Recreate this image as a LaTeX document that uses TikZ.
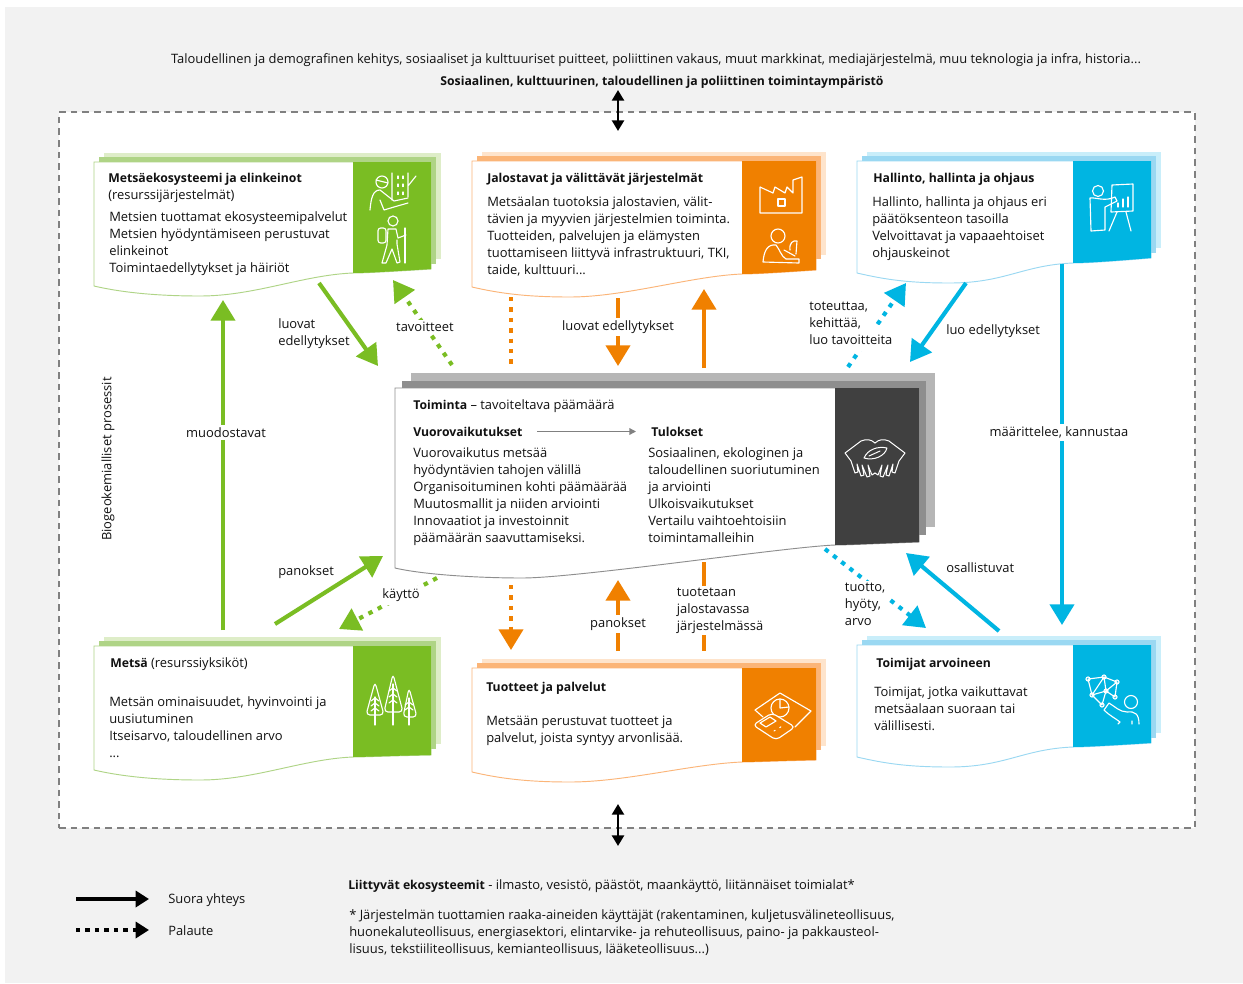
\documentclass[tikz,border=0pt]{standalone}
\usepackage{fontspec}
\setmainfont{Open Sans}[BoldFeatures={Scale=0.945}]
\usetikzlibrary{arrows.meta}
\definecolor{grn}{HTML}{7ABD23}\definecolor{grnm}{HTML}{AFD486}\definecolor{grnl}{HTML}{DEEDC8}
\definecolor{org}{HTML}{F08000}\definecolor{orgm}{HTML}{FBB578}\definecolor{orgl}{HTML}{FEE4CC}
\definecolor{blu}{HTML}{00B5E2}\definecolor{blum}{HTML}{9AD8F2}\definecolor{blul}{HTML}{C9EEFA}
\definecolor{drk}{HTML}{404040}\definecolor{drkm}{HTML}{8E8E8E}\definecolor{drkl}{HTML}{B6B6B6}
\definecolor{txt}{HTML}{111111}\definecolor{bgc}{HTML}{F2F2F2}
\newcommand{\txtfont}{\fontsize{9.7}{12.75}\selectfont}
\tikzset{
  lbl/.style={font=\txtfont,text=txt,inner sep=0pt,align=left},
  gaplbl/.style={lbl,fill=white,inner xsep=2pt,inner ysep=2pt},
  conn/.style={line width=3.1pt,-{Triangle[length=15.5pt,width=18pt]}},
  connplain/.style={line width=3.1pt},
  dotc/.style={line width=3.1pt,dash pattern=on 3.3pt off 4.5pt},
  dota/.style={dotc,-{Triangle[length=15.5pt,width=18pt]}},
  ico/.style={draw=white,line width=0.85pt,line join=round,line cap=round},
  dbl/.style={line width=1.8pt,black,{Triangle[length=8pt,width=9pt]}-{Triangle[length=8pt,width=9pt]}},
  leg/.style={line width=2.8pt,black,-{Triangle[length=10pt,width=12pt]}},
}
\newcommand{\lxa}{10}\newcommand{\lya}{9}\newcommand{\lba}{10}
\newcommand{\mxa}{5}\newcommand{\mya}{5}\newcommand{\mba}{5}
% #1 base colour name, #2 left, #3 top, #4 right, #5 panel left,
% #6 wave low, #7 x of low, #8 panel bottom, #9 right bottom
\newcommand{\cardshape}[9]{%
  \fill[#1l] (#2+\lxa,#3-\lya) rectangle (#4+\lxa,#9-\lba);
  \fill[#1m] (#2+\mxa,#3-\mya) rectangle (#4+\mxa,#9-\mba);
  \filldraw[draw=#1m,fill=white,line width=0.7pt] (#2,#3) -- (#4,#3) -- (#4,#9)
     .. controls (#5+30,#8-1) and (#5+10,#8) .. (#5,#8)
     .. controls (#5-50,#8+2) and (#7+55,#6) .. (#7,#6)
     .. controls (#7-40,#6) and (#2+30,#6-3) .. (#2,#6-10) -- cycle;
  \fill[#1] (#5,#3) -- (#4,#3) -- (#4,#9) .. controls (#5+30,#8-1) and (#5+10,#8) .. (#5,#8) -- cycle;
}
\begin{document}
\begin{tikzpicture}[x=0.75pt,y=-0.75pt]
\useasboundingbox (0,0) rectangle (1243,983);
\fill[white] (0,0) rectangle (1243,983);
\fill[bgc] (5,7) rectangle (1243,983);
\node[lbl] (topa) at (656,60.5) {Taloudellinen ja demografinen kehitys, sosiaaliset ja kulttuuriset puitteet, poliittinen vakaus, muut markkinat, mediajärjestelmä, muu teknologia ja infra, historia...};
\node[lbl,font=\txtfont\bfseries] (topb) at (662,82) {Sosiaalinen, kulttuurinen, taloudellinen ja poliittinen toimintaympäristö};
\node[draw=gray,dash pattern=on 5pt off 3.7pt,line width=0.9pt,fill=white,minimum width=1136*0.75pt,minimum height=716*0.75pt,inner sep=0pt] (frame) at (627,470) {};

% cards
\cardshape{grn}{94}{162}{431}{353}{296}{200}{273}{269}
\renewcommand{\lba}{15}\renewcommand{\mba}{11}
\cardshape{org}{472}{161}{816}{742}{297}{570}{274}{270}
\renewcommand{\lba}{10}\renewcommand{\mba}{5}
\cardshape{blu}{857}{161}{1151}{1073}{283}{950}{263}{258}
\renewcommand{\lba}{11}\renewcommand{\mba}{6}
\cardshape{grn}{94}{646}{431}{353}{780}{200}{757}{755}
\renewcommand{\lba}{14}\renewcommand{\mba}{10}
\cardshape{org}{472}{668}{816}{742}{782}{570}{762}{760}
\renewcommand{\lba}{10}\renewcommand{\mba}{5}
\cardshape{blu}{857}{645}{1151}{1073}{767}{950}{747}{743}
\renewcommand{\lxa}{16}\renewcommand{\lya}{15}\renewcommand{\lba}{15}
\renewcommand{\mxa}{7}\renewcommand{\mya}{7}\renewcommand{\mba}{7}
\cardshape{drk}{395}{388}{919}{835}{578}{522}{545}{542}

% coordinates of free connector ends
\coordinate (g1a) at (223,630); \coordinate (g1b) at (223,300);
\coordinate (g2a) at (319,283); \coordinate (g2b) at (378,366);
\coordinate (g3a) at (452,365); \coordinate (g3b) at (393,280);
\coordinate (g4a) at (275,624); \coordinate (g4b) at (383,556);
\coordinate (g5a) at (437,578); \coordinate (g5b) at (339,629);
\coordinate (o1a) at (511,297); \coordinate (o1b) at (511,365);
\coordinate (o2a) at (618,298); \coordinate (o2b) at (618,366);
\coordinate (o3a) at (704,368); \coordinate (o3b) at (704,289);
\coordinate (o4a) at (511,585); \coordinate (o4b) at (511,650);
\coordinate (o5a) at (618,651); \coordinate (o5b) at (618,580);
\coordinate (o6a) at (704,562); \coordinate (o6b) at (704,651);
\coordinate (b1a) at (848,367); \coordinate (b1b) at (906,283);
\coordinate (b2a) at (966,283); \coordinate (b2b) at (910,362);
\coordinate (b3a) at (1062,264); \coordinate (b3b) at (1062,625);
\coordinate (b4a) at (999,631); \coordinate (b4b) at (906,553);
\coordinate (b5a) at (825,549); \coordinate (b5b) at (926,628);
\coordinate (d1a) at (618,90); \coordinate (d1b) at (618,131);
\coordinate (d2a) at (618,804); \coordinate (d2b) at (618,846);
\coordinate (l1a) at (76,899); \coordinate (l1b) at (149,899);
\coordinate (l2a) at (76,930); \coordinate (l2b) at (149,930);

\draw[conn,grn] (g1a) -- (g1b);
\draw[conn,grn] (g2a) -- (g2b);
\draw[dota,grn] (g3a) -- (g3b);
\draw[conn,grn] (g4a) -- (g4b);
\draw[dota,grn] (g5a) -- (g5b);
\draw[dotc,org] (o1a) -- (o1b);
\draw[conn,org] (o2a) -- (o2b);
\draw[conn,org] (o3a) -- (o3b);
\draw[dota,org] (o4a) -- (o4b);
\draw[conn,org] (o5a) -- (o5b);
\draw[connplain,org] (o6a) -- (o6b);
\draw[dota,blu] (b1a) -- (b1b);
\draw[conn,blu] (b2a) -- (b2b);
\draw[conn,blu] (b3a) -- (b3b);
\draw[conn,blu] (b4a) -- (b4b);
\draw[dota,blu] (b5a) -- (b5b);
\draw[dbl] (d1a) -- (d1b);
\draw[dbl] (d2a) -- (d2b);
\draw[leg] (l1a) -- (l1b);
\draw[leg,dash pattern=on 3.3pt off 3.8pt] (l2a) -- (l2b);

% connector labels
\node[gaplbl] (n1) at (226,432.5) {muodostavat};
\node[lbl,anchor=west] (n2) at (278,334) {luovat\\edellytykset};
\node[gaplbl] (n3) at (425,327) {tavoitteet};
\node[gaplbl] (n4) at (618,327) {luovat edellytykset};
\node[gaplbl,anchor=west,inner ysep=6pt] (n5gap) at (806,338) {\phantom{luo tavoitteita}};
\node[lbl,anchor=west] (n5) at (809,323) {toteuttaa,\\kehittää,\\luo tavoitteita};
\node[lbl,anchor=west] (n6) at (946,331) {luo edellytykset};
\node[gaplbl] (n7) at (1059,432.5) {määrittelee, kannustaa};
\node[lbl,anchor=west] (n8) at (278,572) {panokset};
\node[gaplbl] (n9) at (401,595.5) {käyttö};
\node[gaplbl] (n10) at (618,624) {panokset};
\node[gaplbl,anchor=west,inner ysep=1pt] (n11) at (674,610.5) {tuotetaan\\jalostavassa\\järjestelmässä};
\node[gaplbl,anchor=west] (n12) at (842,604.5) {tuotto,\\hyöty,\\arvo};
\node[lbl,anchor=west] (n13) at (946,568) {osallistuvat};
\node[lbl,rotate=90] (n14) at (108,459) {Biogeokemialliset prosessit};

% card texts
\node[lbl,anchor=north west] (c1) at (108,172.5) {\textbf{Metsäekosysteemi ja elinkeinot}\\(resurssijärjestelmät)};
\node[lbl,anchor=north west] (c1b) at (109,211.5) {Metsien tuottamat ekosysteemipalvelut\\Metsien hyödyntämiseen perustuvat\\elinkeinot\\Toimintaedellytykset ja häiriöt};
\node[lbl,anchor=north west] (c2) at (487,172.5) {\textbf{Jalostavat ja välittävät järjestelmät}};
\node[lbl,anchor=north west] (c2b) at (487,196.5) {Metsäalan tuotoksia jalostavien, välit-\\tävien ja myyvien järjestelmien toiminta.\\Tuotteiden, palvelujen ja elämysten\\tuottamiseen liittyvä infrastruktuuri, TKI,\\taide, kulttuuri...};
\node[lbl,anchor=north west] (c3) at (873,172.5) {\textbf{Hallinto, hallinta ja ohjaus}};
\node[lbl,anchor=north west] (c3b) at (872,196.5) {Hallinto, hallinta ja ohjaus eri\\päätöksenteon tasoilla\\Velvoittavat ja vapaaehtoiset\\ohjauskeinot};
\node[lbl,anchor=north west] (c4) at (110,657.5) {\textbf{Metsä} (resurssiyksiköt)};
\node[lbl,anchor=north west] (c4b) at (109,696.5) {Metsän ominaisuudet, hyvinvointi ja\\uusiutuminen\\Itseisarvo, taloudellinen arvo\\...};
\node[lbl,anchor=north west] (c5) at (486,681.5) {\textbf{Tuotteet ja palvelut}};
\node[lbl,anchor=north west] (c5b) at (486,715.5) {Metsään perustuvat tuotteet ja\\palvelut, joista syntyy arvonlisää.};
\node[lbl,anchor=north west] (c6) at (876,657.5) {\textbf{Toimijat arvoineen}};
\node[lbl,anchor=north west] (c6b) at (874,686.5) {Toimijat, jotka vaikuttavat\\metsäalaan suoraan tai\\välillisesti.};
\node[lbl,anchor=north west] (m0) at (413,399.5) {\textbf{Toiminta} -- tavoiteltava päämäärä};
\node[lbl,anchor=north west] (m1) at (413,426.5) {\textbf{Vuorovaikutukset}};
\node[lbl,anchor=north west] (m2) at (651,426.5) {\textbf{Tulokset}};
\node[lbl,anchor=north west] (m1b) at (413,447.5) {Vuorovaikutus metsää\\hyödyntävien tahojen välillä\\Organisoituminen kohti päämäärää\\Muutosmallit ja niiden arviointi\\Innovaatiot ja investoinnit\\päämäärän saavuttamiseksi.};
\node[lbl,anchor=north west] (m2b) at (648,447.5) {Sosiaalinen, ekologinen ja\\taloudellinen suoriutuminen\\ja arviointi\\Ulkoisvaikutukset\\Vertailu vaihtoehtoisiin\\toimintamalleihin};
\coordinate (ma) at (537,431.5); \coordinate (mb) at (636,431.5);
\draw[gray,line width=1pt,-{Triangle[length=5pt,width=5pt]}] (ma) -- (mb);

% legend + footnote
\node[lbl,anchor=west] (f1) at (168,900) {Suora yhteys};
\node[lbl,anchor=west] (f2) at (168,931) {Palaute};
\node[lbl,anchor=north west] (f3) at (348,879.5) {\textbf{Liittyvät ekosysteemit} - ilmasto, vesistö, päästöt, maankäyttö, liitännäiset toimialat*};
\node[lbl,anchor=north west] (f4) at (349,909.5) {* Järjestelmän tuottamien raaka-aineiden käyttäjät (rakentaminen, kuljetusvälineteollisuus,\\huonekaluteollisuus, energiasektori, elintarvike- ja rehuteollisuus, paino- ja pakkausteol-\\lisuus, tekstiiliteollisuus, kemianteollisuus, lääketeollisuus...)};

% icons
\begin{scope}[ico]
% worker and tree
\draw (382,182) circle (6);
\draw (376,180) -- (388,183);
\draw (370,210) .. controls (371,198) and (373,190) .. (380,190) -- (394,201) -- (408,198);
\draw (380,200) -- (384,210) -- (394,207) -- (408,203);
\draw (392,173) -- (392,200) (408,173) -- (408,197) (408,186) -- (416,176);
\foreach \yy in {176,184,192} {\draw[dash pattern=on 2pt off 2pt] (398,\yy) -- (398,\yy+5) (403,\yy) -- (403,\yy+5);}
% hiker
\draw (393,221) circle (5);
\draw (388,229) -- (396,229) -- (398,238) -- (406,235)
  (388,229) -- (387,245) -- (382,263) -- (386,263) -- (392,249) -- (397,263) -- (400,262) -- (397,244) -- (397,240);
\draw (405,228) -- (405,263);
\draw[rounded corners=2pt] (386,228) rectangle (378,243);
% factory
\draw (760,213) -- (760,187) -- (773,193) -- (775,187) -- (785,193) -- (787,187) -- (793,193) -- (793,180) -- (802,177) -- (802,213) -- cycle;
\draw (778,199) rectangle (785,206);
% scientist
\draw (778,236) circle (7);
\draw (763,262) .. controls (764,250) and (768,244) .. (776,245) .. controls (780,250) and (781,256) .. (786,259) -- (799,259) -- (799,263) -- (763,262);
\draw (790,250) .. controls (789,243) and (793,240) .. (797,241) -- (796,254) (784,250) -- (795,256);
% teacher
\draw (1098,191) circle (5.5);
\draw (1090,198) .. controls (1095,197) and (1105,202) .. (1115,197) -- (1117,201) -- (1105,207) -- (1105,230) -- (1091,231) -- cycle;
\draw (1112,185) -- (1133,184) -- (1133,211) -- (1111,212) -- cycle;
\draw (1117,212) -- (1109,231) (1126,212) -- (1131,231);
\draw (1118,207) -- (1118,203) (1123,207) -- (1123,199) (1128,207) -- (1128,197);
% trees
\draw[rounded corners=3pt] (375,682) -- (384,715) -- (366,715) -- cycle;
\draw[rounded corners=3pt] (393,674) -- (403,712) -- (384,712) -- cycle;
\draw[rounded corners=3pt] (409,688) -- (417,717) -- (403,717) -- cycle;
\draw (375,697) -- (375,725) (393,684) -- (393,725) (409,698) -- (409,725);
\foreach \xx/\yy in {375/698,375/703,375/708,393/688,393/694,393/700,409/702,409/707} {\draw (\xx-4,\yy+3) -- (\xx,\yy) -- (\xx+4,\yy+3);}
% products
\draw (763,717) -- (755,710) -- (780,693) -- (811,711) -- (795,727);
\draw (780,708) circle (9);
\draw (780,699) -- (780,708) -- (789,707);
\draw[rounded corners=3pt,fill=org] (753,725) -- (772,713) -- (795,727) -- (776,740) -- cycle;
\draw (760,723) -- (770,717) -- (776,721) -- (766,727) -- cycle;
\draw[dash pattern=on 1pt off 4pt] (774,731) -- (784,725);
% network
\foreach \xx/\yy in {1088/679,1104/677,1117/682,1092/695,1106/691,1115/697,1102/705} {\draw (\xx,\yy) circle (2);}
\draw (1088,679) -- (1104,677) -- (1117,682) -- (1115,697) -- (1106,691) -- (1092,695) -- (1102,705) -- (1106,691) -- (1104,677) -- (1092,695) -- (1088,679) (1106,691) -- (1117,682);
\draw (1131,702) circle (6.5);
\draw (1104,710) .. controls (1110,716) and (1115,718) .. (1120,722) -- (1118,724) (1104,710) -- (1109,703) .. controls (1114,706) and (1120,712) .. (1127,712) .. controls (1135,711) and (1139,714) .. (1139,724)
 (1132,721) -- (1132,724);
% hands + leaf
\foreach \s/\o in {1/0,-1/1750} {
\draw[line width=0.75pt] (\o+\s*875,443) .. controls (\o+\s*871,439) and (\o+\s*866,439) .. (\o+\s*861,441) -- (\o+\s*845,453) -- (\o+\s*851,461) -- (\o+\s*855,473) -- (\o+\s*858,472) -- (\o+\s*857,464) -- (\o+\s*861,476) -- (\o+\s*864,475) -- (\o+\s*862,465) -- (\o+\s*867,477) -- (\o+\s*870,476) -- (\o+\s*868,465) -- (\o+\s*872,475) -- (\o+\s*875,473);
}
\draw[line width=0.75pt] (864,458) .. controls (868,449) and (878,446) .. (887,448) .. controls (885,456) and (874,461) .. (864,458) -- cycle;
\draw[line width=0.75pt] (869,456) -- (880,451);
\end{scope}
\end{tikzpicture}
\end{document}
